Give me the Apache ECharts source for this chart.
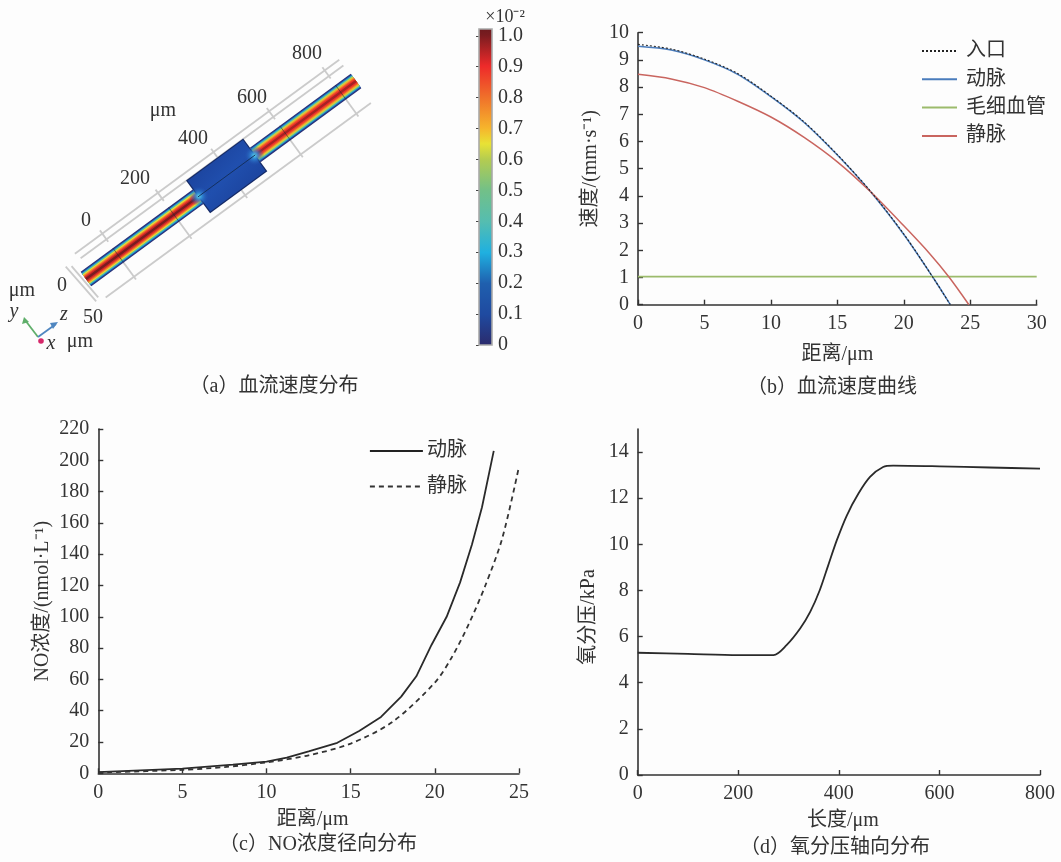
<!DOCTYPE html>
<html><head><meta charset="utf-8">
<style>html,body{margin:0;padding:0;background:#fdfdfd}#c{width:1061px;height:862px}</style>
<script src="https://cdn.jsdelivr.net/npm/echarts@6/dist/echarts.min.js"></script>
</head><body><div id="c"></div>
<script>
// (b) blood flow velocity
const inletX=[0,2.5,5,7.5,10,12.5,15,17.5,20,22.2,23.5];
const inletY=[9.57,9.4,9.03,8.5,7.67,6.72,5.52,4.17,2.6,1.0,0];
const arteryX=[0,2.5,5,7.5,10,12.5,15,17.5,20,22.2,23.5];
const arteryY=[9.5,9.36,9.0,8.47,7.65,6.7,5.5,4.15,2.58,1.0,0];
const capillaryX=[0,30];
const capillaryY=[1.03,1.03];
const veinX=[0,2.5,5,7.5,10,12.5,15,17.5,20,22,23.4,24.9];
const veinY=[8.47,8.3,7.98,7.48,6.9,6.15,5.25,4.15,2.9,1.85,1.02,0];
// (c) NO concentration
const noArteryX=[0,5,8,10,11.2,12.5,14.2,15.5,16.8,18,18.9,19.8,20.7,21.5,22.2,22.8,23.5];
const noArteryY=[0.8,3,5.5,7.5,10,14,19.5,27,36,49,62,82,100,122,146,170,206];
const noVeinX=[0,5,7.5,10,12.5,15,17.5,20,21,22,23,24,25];
const noVeinY=[0.5,2.2,4,7,11.5,19,33,58,74,95,120,150,196];
// (d) oxygen partial pressure
const po2X=[0,100,200,270,296,323,343,362,379,396,416,439,462,488,508,600,700,800];
const po2Y=[5.3,5.25,5.2,5.2,5.63,6.35,7.07,8.01,9.1,10.18,11.26,12.2,12.92,13.35,13.41,13.38,13.33,13.28];
// (a) velocity field: stripe half-widths across the vessel and the value in each stripe
const stripeR=[1.2,2.4,3.5,4.6,5.6,6.5,7.2,8,9];
const stripeV=[1,0.93,0.86,0.76,0.65,0.5,0.3,0.15,0.02];
const vesselSpans=[[0,139],[210,335]];
const chamberS=[139,210];
const chamberR=20.4;
const axialTicks=[40,109,178,247,316];
const axialLabels=['0','200','400','600','800'];
const colorStops=[[0,'#2b2a6b'],[0.1,'#1f4aa0'],[0.2,'#1f5fae'],[0.3,'#1fb0e0'],[0.4,'#55bdb0'],[0.5,'#72c088'],[0.6,'#b4cc50'],[0.65,'#e8e235'],[0.7,'#f6b52c'],[0.8,'#f0702a'],[0.9,'#ee2a2a'],[1.0,'#7a1c20']];

const SERIF='"Liberation Serif","Noto Sans CJK SC",serif';
const INK='#333';
const FS=20;
const zip=(a,b)=>a.map((v,i)=>[v,b[i]]);
function hex(c){return [1,3,5].map(i=>parseInt(c.slice(i,i+2),16));}
function cmap(v){
  for(let i=1;i<colorStops.length;i++){
    if(v<=colorStops[i][0]){
      const a=colorStops[i-1],b=colorStops[i],t=(v-a[0])/(b[0]-a[0]);
      const A=hex(a[1]),B=hex(b[1]);
      return 'rgb('+A.map((x,k)=>Math.round(x+(B[k]-x)*t)).join(',')+')';
    }
  }
  return colorStops[colorStops.length-1][1];
}
// scene frame of the 3D view: s along the vessel, r across it
const O=[86,279],D=[0.806,-0.591],N=[0.591,0.806];
const P=(s,r)=>[O[0]+s*D[0]+r*N[0],O[1]+s*D[1]+r*N[1]];

const sceneLines=[
 [6,334,-27,-27],[8,334,-20,-20],[5,334,26.5,26.5],
 [-9,-5,-22,24],[-4,-1,-19,22]
].concat(axialTicks.map(s=>[s,s,-31,-17])).concat(axialTicks.map(s=>[s,s,9,30]));

const bands=[];
vesselSpans.forEach((sp,idx)=>{
  const k=idx===0?1:0.96;
  for(let i=stripeR.length-1;i>=0;i--){
    bands.push([sp[0],sp[1],-stripeR[i],stripeR[i],stripeV[i]*k]);
  }
});
function poly(api,pts,style){
  return {type:'polygon',shape:{points:pts.map(p=>api.coord(p))},style:style,silent:true};
}
const tubeFrame=(s0,s1,r0,r1)=>[P(s0,r0),P(s1,r0),P(s1,r1),P(s0,r1)];

function axisCommon(){return {
  axisLine:{show:true,onZero:false,lineStyle:{color:'#333',width:1.6}},
  axisTick:{show:true,inside:true,length:5,lineStyle:{color:'#333',width:1.4}},
  splitLine:{show:false},
  axisLabel:{color:INK,fontFamily:SERIF,fontSize:FS,margin:9,hideOverlap:false},
  nameLocation:'middle',
  nameTextStyle:{color:INK,fontFamily:SERIF,fontSize:FS}
};}
const xa=(o)=>Object.assign(axisCommon(),o);

const sceneText=[
 ...axialLabels.map((t,i)=>({t,x:[86,135,193,252,307][i],y:[221,179,139,98,54][i]})),
 {t:'μm',x:163,y:111},{t:'0',x:62,y:286},{t:'50',x:93,y:318},{t:'μm',x:22,y:291},{t:'μm',x:80,y:342},
 {t:'y',x:14,y:312,i:1},{t:'z',x:64,y:315,i:1},{t:'x',x:51,y:344,i:1},
 {t:'×10⁻²',x:505,y:17,s:18}
];
const legendText={color:INK,fontFamily:SERIF,fontSize:FS};

const option={
 backgroundColor:'#fdfdfd',
 animation:false,
 textStyle:{fontFamily:SERIF},
 title:[
  ['（a）血流速度分布',274,377],['（b）血流速度曲线',832,378],
  ['（c）NO浓度径向分布',318,835],['（d）氧分压轴向分布',835,838]
 ].map(a=>({text:a[0],left:a[1],top:a[2],textAlign:'center',padding:0,
   textStyle:{color:INK,fontFamily:SERIF,fontSize:FS,fontWeight:'normal'}})),
 legend:[
  {left:921,top:41,padding:0,orient:'vertical',itemWidth:35,itemHeight:14,itemGap:8.3,selectedMode:false,
   itemStyle:{opacity:0},
   data:[{name:'入口'},{name:'动脉'},{name:'毛细血管'},{name:'静脉'}],
   textStyle:Object.assign({},legendText,{padding:[0,0,0,4]})},
  {left:369,top:441,padding:0,orient:'vertical',itemWidth:53,itemHeight:14,itemGap:15.5,selectedMode:false,
   itemStyle:{opacity:0},
   data:[{name:'动脉',lineStyle:{color:'#222',width:1.8,type:'solid'}},{name:'静脉',lineStyle:{color:'#333',width:1.8,type:[5,4]}}],
   textStyle:Object.assign({},legendText,{padding:[0,0,0,-1]})}
 ],
 grid:[
  {left:0,top:0,width:540,height:400},
  {left:479,top:29,width:13,height:316},
  {left:638,top:32.7,width:398.7,height:272},
  {left:98.3,top:429,width:420.7,height:344.3},
  {left:637.7,top:429,width:402.3,height:346}
 ],
 xAxis:[
  {gridIndex:0,type:'value',min:0,max:540,show:false},
  {gridIndex:1,type:'value',min:0,max:1,show:false},
  xa({gridIndex:2,type:'value',min:0,max:30,interval:5,name:'距离/μm',nameGap:40}),
  xa({gridIndex:3,type:'value',min:0,max:25,interval:5,name:'距离/μm',nameGap:36,nameTextStyle:{color:INK,fontFamily:SERIF,fontSize:FS,padding:[0,0,0,8]}}),
  xa({gridIndex:4,type:'value',min:0,max:800,interval:200,name:'长度/μm',nameGap:36,nameTextStyle:{color:INK,fontFamily:SERIF,fontSize:FS,padding:[0,0,0,8]}})
 ],
 yAxis:[
  {gridIndex:0,type:'value',min:0,max:400,inverse:true,show:false},
  {gridIndex:1,type:'value',position:'right',min:0,max:1.022,interval:0.1,
   axisLine:{show:false},axisTick:{show:true,inside:true,length:3,lineStyle:{color:'#444',width:1}},splitLine:{show:false},
   axisLabel:{color:INK,fontFamily:SERIF,fontSize:FS,margin:6,showMaxLabel:false,
     formatter:v=>v===0?'0':v.toFixed(1)}},
  xa({gridIndex:2,type:'value',min:0,max:10,interval:1,name:'速度/(mm·s⁻¹)',nameGap:37}),
  xa({gridIndex:3,type:'value',min:0,max:220,interval:20,name:'NO浓度/(nmol·L⁻¹)',nameGap:46}),
  (()=>{const a=xa({gridIndex:4,type:'value',min:0,max:15,interval:2,name:'氧分压/kPa',nameGap:39,
     nameTextStyle:{color:INK,fontFamily:SERIF,fontSize:FS,padding:[0,30,0,0]}});
     a.axisLabel.showMaxLabel=false;return a;})()
 ],
 series:[
  {type:'custom',name:'grid-lines',xAxisIndex:0,yAxisIndex:0,clip:false,silent:true,data:sceneLines,z:1,
   renderItem:(p,api)=>{const d=sceneLines[p.dataIndex],a=api.coord(P(d[0],d[2])),b=api.coord(P(d[1],d[3]));
     return {type:'line',shape:{x1:a[0],y1:a[1],x2:b[0],y2:b[1]},style:{stroke:'#cbcbcb',lineWidth:1.8}};}},
  {type:'custom',name:'vessel',xAxisIndex:0,yAxisIndex:0,clip:false,silent:true,data:bands,z:3,
   renderItem:(p,api)=>{const d=bands[p.dataIndex];
     return poly(api,tubeFrame(d[0],d[1],d[2],d[3]),{fill:cmap(d[4])});}},
  {type:'custom',name:'chamber',xAxisIndex:0,yAxisIndex:0,clip:false,silent:true,data:[[0]],z:4,
   renderItem:(p,api)=>{
     const s0=chamberS[0],s1=chamberS[1],R=chamberR;
     const a=api.coord(P(s0,0)),b=api.coord(P(s1,0));
     const glow=(c)=>({type:'circle',shape:{cx:c[0],cy:c[1],r:10},style:{fill:new echarts.graphic.RadialGradient(0.5,0.5,0.5,[
        {offset:0,color:'rgba(90,215,235,1)'},{offset:0.35,color:'rgba(50,140,215,0.85)'},{offset:1,color:'rgba(35,80,175,0)'}])}});
     const body=new echarts.graphic.LinearGradient(0,0,1,1,[
        {offset:0,color:'#183a90'},{offset:0.5,color:'#204fae'},{offset:1,color:'#183a90'}]);
     return {type:'group',children:[
      poly(api,tubeFrame(s0,s1,-R,R),{fill:'#152a66'}),
      poly(api,tubeFrame(s0+1.2,s1-1.2,-R+1.2,R-1.2),{fill:body}),
      glow(api.coord(P(s0+1,0))),
      glow(api.coord(P(s1-1,0))),
      {type:'line',shape:{x1:a[0],y1:a[1],x2:b[0],y2:b[1]},style:{stroke:'#14305f',lineWidth:1}}
     ]};}},
  {type:'custom',name:'sections',xAxisIndex:0,yAxisIndex:0,clip:false,silent:true,data:[axialTicks[0],axialTicks[1],axialTicks[3],axialTicks[4]],z:5,
   renderItem:(p,api)=>{const s=api.value(0);const a=api.coord(P(s,-9)),b=api.coord(P(s,9));
     return {type:'line',shape:{x1:a[0],y1:a[1],x2:b[0],y2:b[1]},style:{stroke:'rgba(30,40,50,0.55)',lineWidth:1}};}},
  {type:'custom',name:'triad',xAxisIndex:0,yAxisIndex:0,clip:false,silent:true,data:[[0]],z:5,
   renderItem:(p,api)=>{
     const o=[38,337];
     const arrow=(t,c,h)=>({type:'group',children:[
       {type:'line',shape:{x1:o[0],y1:o[1],x2:t[0],y2:t[1]},style:{stroke:c,lineWidth:1.8}},
       {type:'polygon',shape:{points:h},style:{fill:c}}]});
     return {type:'group',children:[
       arrow([25,320],'#5fae6a',[[24,317],[22,324],[29,322]]),
       arrow([56,324],'#4f86c0',[[58,322],[50,323],[53,329]]),
       {type:'circle',shape:{cx:41,cy:341,r:2.8},style:{fill:'#d6286a'}}
     ]};}},
  {type:'scatter',name:'scene-text',xAxisIndex:0,yAxisIndex:0,symbolSize:0,silent:true,z:6,itemStyle:{opacity:1},
   data:sceneText.map(o=>({value:[o.x,o.y],label:{show:true,position:'inside',align:'center',verticalAlign:'middle',formatter:o.t,
     color:INK,fontFamily:SERIF,fontSize:o.s||FS,fontStyle:o.i?'italic':'normal'}}))},
  {type:'custom',name:'colorbar',xAxisIndex:1,yAxisIndex:1,clip:false,silent:true,data:[[0,1.022]],z:2,
   renderItem:(p,api)=>{
     const a=api.coord([0,1.022]),b=api.coord([1,0]);
     const grad=new echarts.graphic.LinearGradient(0,1,0,0,colorStops.map(c=>({offset:c[0]/1.022,color:c[1]})).concat([{offset:1,color:'#6d1a1e'}]));
     return {type:'rect',shape:{x:a[0],y:a[1],width:b[0]-a[0],height:b[1]-a[1]},style:{fill:grad,stroke:'#a9a9a9',lineWidth:1.6}};}},
  {type:'line',name:'动脉',xAxisIndex:2,yAxisIndex:2,data:zip(arteryX,arteryY),smooth:0.3,symbol:'none',lineStyle:{color:'#4a7cbc',width:1.5},itemStyle:{color:'#4a7cbc'},z:3},
  {type:'line',name:'入口',xAxisIndex:2,yAxisIndex:2,data:zip(inletX,inletY),smooth:0.3,symbol:'none',lineStyle:{color:'#222',width:1.1,type:[2,2]},itemStyle:{color:'#222'},z:4},
  {type:'line',name:'毛细血管',xAxisIndex:2,yAxisIndex:2,data:zip(capillaryX,capillaryY),symbol:'none',lineStyle:{color:'#9cbb6c',width:1.8},itemStyle:{color:'#9cbb6c'},z:3},
  {type:'line',name:'静脉',xAxisIndex:2,yAxisIndex:2,data:zip(veinX,veinY),smooth:0.3,symbol:'none',lineStyle:{color:'#c9655f',width:1.5},itemStyle:{color:'#c9655f'},z:3},
  {type:'line',name:'动脉',xAxisIndex:3,yAxisIndex:3,data:zip(noArteryX,noArteryY),symbol:'none',lineStyle:{color:'#2a2a2a',width:1.8},itemStyle:{color:'#2a2a2a'}},
  {type:'line',name:'静脉',xAxisIndex:3,yAxisIndex:3,data:zip(noVeinX,noVeinY),smooth:0.3,symbol:'none',lineStyle:{color:'#333',width:1.8,type:[5,4]},itemStyle:{color:'#333'}},
  {type:'line',name:'氧分压',xAxisIndex:4,yAxisIndex:4,data:zip(po2X,po2Y),smooth:0.3,symbol:'none',lineStyle:{color:'#2a2a2a',width:1.8},itemStyle:{color:'#2a2a2a'}}
 ]
};
const chart=echarts.init(document.getElementById('c'),null,{renderer:'canvas'});
chart.setOption(option);
</script></body></html>
